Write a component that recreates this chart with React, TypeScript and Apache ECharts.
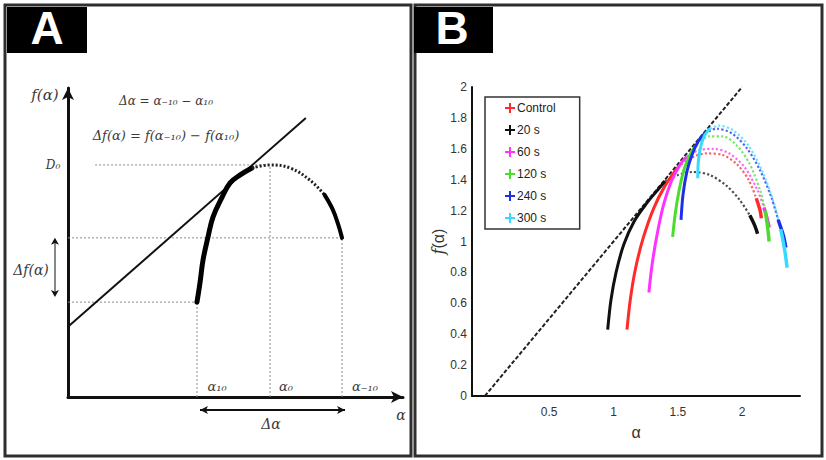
import React, { useEffect, useRef } from "react";
import * as echarts from "echarts";

// ---------- Panel A (schematic, arbitrary units 0..100) ----------
const alpha10 = 38.5;
const alpha0 = 60.3;
const alphaM10 = 81.8;
const fAlpha10 = 30.7;
const fAlphaM10 = 51.5;
const D0 = 75.1;
const d0GuideStart = 8.1;
const tangentLine = [[0, 22.7], [71, 90.3]];
const curveALeft = [[38.5, 30.7], [39.4, 36.9], [40.3, 44.3], [41.8, 51.8], [43.3, 58.3], [46.0, 64.7], [48.4, 69.3], [51.3, 71.8], [54.9, 74.1]];
const curveAMid = [[54.9, 74.1], [60.3, 75.1], [66.3, 74.1], [72.2, 70.2], [76.6, 65.4]];
const curveARight = [[76.6, 65.4], [79.1, 60.5], [80.6, 56.0], [81.8, 51.5]];
const deltaFArrowX = -3.9;
const deltaFArrowEnds = [51.5, 32.4];
const deltaAlphaArrowY = -4.2;
const deltaAlphaArrowEnds = [39.4, 82.7];

// ---------- Panel B ----------
const legendNames = ["Control", "20 s", "60 s", "120 s", "240 s", "300 s"];
const colors = ["#ff2a2a", "#111111", "#ff33ff", "#4cdc2c", "#1f2fe8", "#36dcff"];
const diagonal = [[0, 0], [2, 2]];
const yTicks = [0, 2, 0.2];
const xLabelValues = [0.5, 1, 1.5, 2];

const controlLeft = [[1.105, 0.43], [1.13, 0.62], [1.17, 0.82], [1.23, 1.02], [1.31, 1.21], [1.40, 1.36], [1.50, 1.48]];
const controlMid = [[1.50, 1.48], [1.60, 1.54], [1.72, 1.57], [1.85, 1.56], [1.96, 1.50], [2.05, 1.40], [2.11, 1.28]];
const controlRight = [[2.11, 1.28], [2.14, 1.20], [2.15, 1.15]];

const s20Left = [[0.955, 0.43], [0.98, 0.62], [1.02, 0.80], [1.08, 0.98], [1.16, 1.13], [1.26, 1.25], [1.34, 1.33], [1.40, 1.39]];
const s20Mid = [[1.40, 1.39], [1.50, 1.43], [1.62, 1.45], [1.75, 1.43], [1.88, 1.36], [1.98, 1.27], [2.06, 1.17]];
const s20Right = [[2.06, 1.17], [2.10, 1.10], [2.12, 1.05]];

const s60Left = [[1.275, 0.67], [1.30, 0.85], [1.34, 1.05], [1.39, 1.24], [1.45, 1.39], [1.52, 1.50], [1.57, 1.55]];
const s60Mid = [[1.57, 1.55], [1.66, 1.59], [1.78, 1.60], [1.90, 1.57], [2.02, 1.48], [2.12, 1.33], [2.17, 1.22]];
const s60Right = [[2.17, 1.22], [2.20, 1.13], [2.21, 1.09]];

const s120Left = [[1.46, 1.03], [1.48, 1.18], [1.51, 1.33], [1.55, 1.47], [1.60, 1.57], [1.65, 1.63]];
const s120Mid = [[1.65, 1.63], [1.74, 1.68], [1.85, 1.68], [1.96, 1.62], [2.06, 1.50], [2.14, 1.33], [2.18, 1.20]];
const s120Right = [[2.18, 1.20], [2.20, 1.08], [2.21, 1.00]];

const s240Left = [[1.525, 1.14], [1.54, 1.30], [1.57, 1.45], [1.61, 1.56], [1.66, 1.65], [1.71, 1.70]];
const s240Mid = [[1.71, 1.70], [1.80, 1.73], [1.92, 1.70], [2.04, 1.60], [2.14, 1.46], [2.23, 1.28], [2.28, 1.14]];
const s240Right = [[2.28, 1.14], [2.32, 1.04], [2.34, 0.96]];

const s300Left = [[1.655, 1.41], [1.66, 1.52], [1.68, 1.62], [1.71, 1.69], [1.75, 1.73]];
const s300Mid = [[1.75, 1.73], [1.82, 1.75], [1.93, 1.72], [2.05, 1.62], [2.16, 1.45], [2.25, 1.24], [2.30, 1.08]];
const s300Right = [[2.30, 1.08], [2.33, 0.95], [2.35, 0.83]];

const curveSegments = [
  [controlLeft, controlMid, controlRight],
  [s20Left, s20Mid, s20Right],
  [s60Left, s60Mid, s60Right],
  [s120Left, s120Mid, s120Right],
  [s240Left, s240Mid, s240Right],
  [s300Left, s300Mid, s300Right],
];

const SANS = '"Liberation Sans", Arial, sans-serif';
const SERIF = '"DejaVu Serif", "Liberation Serif", serif';
const PLUS = "path://M4,0L6,0L6,4L10,4L10,6L6,6L6,10L4,10L4,6L0,6L0,4L4,4Z";

function buildOption() {
  const a = { xAxisIndex: 0, yAxisIndex: 0 };
  const b = { xAxisIndex: 1, yAxisIndex: 1 };
  const guide = (data: number[][]) => ({
    type: "line", ...a, data, showSymbol: false, silent: true, z: 1,
    lineStyle: { color: "#8a8a8a", width: 1, type: [2, 2] },
  });
  const series: any[] = [
    guide([[d0GuideStart, D0], [alpha0, D0]]),
    guide([[0, fAlphaM10], [alphaM10, fAlphaM10]]),
    guide([[0, fAlpha10], [alpha10, fAlpha10]]),
    guide([[alpha10, 0], [alpha10, fAlpha10]]),
    guide([[alpha0, 0], [alpha0, D0]]),
    guide([[alphaM10, 0], [alphaM10, fAlphaM10]]),
    { type: "line", ...a, data: tangentLine, showSymbol: false, lineStyle: { color: "#111", width: 2 }, z: 2 },
    { type: "line", ...a, data: curveALeft, smooth: 0.4, showSymbol: false, lineStyle: { color: "#000", width: 5, cap: "round" }, z: 3 },
    { type: "line", ...a, data: curveAMid, smooth: 0.4, showSymbol: false, lineStyle: { color: "#222", width: 3, type: [2, 2] }, z: 3 },
    { type: "line", ...a, data: curveARight, smooth: 0.4, showSymbol: false, lineStyle: { color: "#000", width: 4, cap: "round" }, z: 3 },
    {
      type: "line", ...a, clip: false, symbol: "arrow", symbolSize: [6, 7], showSymbol: true,
      itemStyle: { color: "#111" }, lineStyle: { color: "#111", width: 1 },
      data: [
        { value: [deltaFArrowX, deltaFArrowEnds[0]], symbolRotate: 0 },
        { value: [deltaFArrowX, deltaFArrowEnds[1]], symbolRotate: 180 },
      ],
    },
    {
      type: "line", ...a, clip: false, symbol: "arrow", symbolSize: [6, 8], showSymbol: true,
      itemStyle: { color: "#111" }, lineStyle: { color: "#111", width: 2 },
      data: [
        { value: [deltaAlphaArrowEnds[0], deltaAlphaArrowY], symbolRotate: 90 },
        { value: [deltaAlphaArrowEnds[1], deltaAlphaArrowY], symbolRotate: -90 },
      ],
    },
    {
      type: "line", ...b, data: diagonal, showSymbol: false, z: 2,
      lineStyle: { color: "#222", width: 2, type: [4, 2] },
    },
  ];
  curveSegments.forEach((segs, i) => {
    const name = legendNames[i];
    const color = colors[i];
    series.push({ type: "line", ...b, name, color, data: segs[0], smooth: 0.3, showSymbol: false, z: 4, lineStyle: { color, width: 3 } });
    series.push({ type: "line", ...b, name, color, data: segs[1], smooth: 0.3, showSymbol: false, z: 3, lineStyle: { color, width: 2.2, type: "dotted", opacity: 0.75 } });
    series.push({ type: "line", ...b, name, color, data: segs[2], smooth: 0.3, showSymbol: false, z: 4, lineStyle: { color, width: 3.5 } });
  });

  const txt = (text: string, x: number, y: number, size: number, extra: any = {}) => ({
    type: "text", z: 10,
    style: { text, x, y, fill: "#3a3a3a", font: `italic ${size}px ${SERIF}`, align: "center", verticalAlign: "middle", ...extra },
  });

  return {
    animation: false,
    grid: [
      { left: 68, top: 88, width: 335, height: 309 },
      { left: 472, top: 87, width: 328, height: 309 },
    ],
    xAxis: [
      {
        gridIndex: 0, type: "value", min: 0, max: 100,
        axisLine: { onZero: false, lineStyle: { color: "#111", width: 3 }, symbol: ["none", "arrow"], symbolSize: [9, 12] },
        axisTick: { show: false }, axisLabel: { show: false }, splitLine: { show: false },
      },
      {
        gridIndex: 1, type: "value", min: -0.1, max: 2.45,
        axisLine: { onZero: false, lineStyle: { color: "#111", width: 2 } },
        axisTick: { show: false }, splitLine: { show: false },
        axisLabel: { customValues: xLabelValues, fontSize: 12, color: "#333", margin: 10, fontFamily: SANS },
        name: "α", nameLocation: "middle", nameGap: 28,
        nameTextStyle: { fontSize: 16, color: "#333", fontFamily: SANS },
      },
    ],
    yAxis: [
      {
        gridIndex: 0, type: "value", min: 0, max: 100,
        axisLine: { show: true, onZero: false, lineStyle: { color: "#111", width: 3 }, symbol: ["none", "arrow"], symbolSize: [9, 12] },
        axisTick: { show: false }, axisLabel: { show: false }, splitLine: { show: false },
      },
      {
        gridIndex: 1, type: "value", min: yTicks[0], max: yTicks[1], interval: yTicks[2],
        axisLine: { show: true, onZero: false, lineStyle: { color: "#111", width: 2 } },
        axisTick: { show: false }, splitLine: { show: false },
        axisLabel: { fontSize: 12, color: "#333", margin: 5, fontFamily: SANS },
        name: "{i|f}(α)", nameLocation: "middle", nameGap: 26, nameRotate: 90,
        nameTextStyle: { fontSize: 16, color: "#333", fontFamily: SANS, rich: { i: { fontStyle: "italic", fontSize: 16, color: "#333", fontFamily: SERIF } } },
      },
    ],
    legend: {
      data: legendNames.map((n) => ({ name: n, icon: PLUS })),
      orient: "vertical", left: 485, top: 97,
      padding: [4, 24, 4, 20], itemWidth: 10, itemHeight: 10, itemGap: 8,
      borderColor: "#333", borderWidth: 1.5, selectedMode: false,
      textStyle: { fontSize: 12, color: "#222", fontFamily: SANS, lineHeight: 14, padding: [0, 0, 0, -3] },
    },
    graphic: [
      { type: "rect", z: 0, shape: { x: 5, y: 5, width: 406, height: 451 }, style: { fill: "none", stroke: "#2e2e2e", lineWidth: 3 } },
      { type: "rect", z: 0, shape: { x: 415, y: 5, width: 407, height: 451 }, style: { fill: "none", stroke: "#2e2e2e", lineWidth: 3 } },
      { type: "rect", z: 1, shape: { x: 7, y: 7, width: 80, height: 46 }, style: { fill: "#000" } },
      { type: "rect", z: 1, shape: { x: 414, y: 7, width: 79, height: 46 }, style: { fill: "#000" } },
      { type: "text", z: 2, style: { text: "A", x: 47, y: 28, fill: "#fff", font: `bold 46px ${SANS}`, align: "center", verticalAlign: "middle" } },
      { type: "text", z: 2, style: { text: "B", x: 452, y: 28, fill: "#fff", font: `bold 46px ${SANS}`, align: "center", verticalAlign: "middle" } },
      { type: "line", z: 2, shape: { x1: 55, y1: 240, x2: 55, y2: 295 }, style: { stroke: "#111", lineWidth: 1 } },
      txt("f(α)", 45, 95, 15),
      txt("Δα = α₋₁₀ − α₁₀", 166, 101, 12),
      txt("Δf(α) = f(α₋₁₀) − f(α₁₀)", 166, 135, 13),
      txt("D₀", 53, 165, 12),
      txt("Δf(α)", 31, 270, 14),
      txt("α₁₀", 217, 386, 13),
      txt("α₀", 286, 386, 13),
      txt("α₋₁₀", 365, 386, 13),
      txt("Δα", 271, 424, 14),
      txt("α", 401, 415, 14),
    ],
    series,
  };
}

export default function App() {
  const ref = useRef<HTMLDivElement>(null);
  useEffect(() => {
    if (!ref.current) return;
    const chart = echarts.init(ref.current, undefined, { renderer: "svg" });
    chart.setOption(buildOption() as any);
    return () => chart.dispose();
  }, []);
  return (
    <div
      ref={ref}
      style={{ position: "absolute", left: 0, top: 0, width: 826, height: 460, background: "#fff" }}
    />
  );
}
